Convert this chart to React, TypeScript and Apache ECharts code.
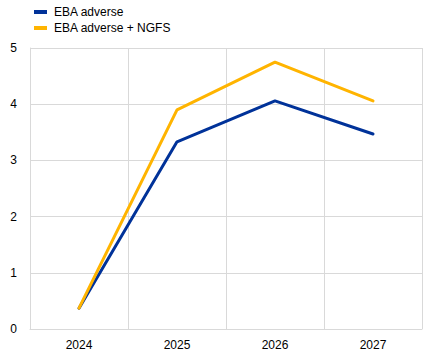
import React, { useEffect, useRef } from "react";
import * as echarts from "echarts";

const categories = ["2024", "2025", "2026", "2027"];
const ebaAdverse = [0.37, 3.33, 4.06, 3.47];
const ebaAdverseNgfs = [0.37, 3.9, 4.75, 4.06];
const seriesNames = ["EBA adverse", "EBA adverse + NGFS"];

export default function App() {
  const ref = useRef<HTMLDivElement>(null);
  useEffect(() => {
    document.body.style.margin = "0";
    const chart = echarts.init(ref.current!, null, { renderer: "svg" });
    chart.setOption({
      animation: false,
      textStyle: { fontFamily: "Liberation Sans, Arial, sans-serif" },
      legend: {
        orient: "vertical",
        left: 29,
        top: 1,
        itemWidth: 13,
        itemHeight: 4,
        itemGap: 4,
        icon: "rect",
        textStyle: { fontSize: 12, color: "#000", padding: [0, 0, 0, 2] },
        data: seriesNames,
      },
      grid: { left: 30, right: 15, top: 48, bottom: 27 },
      xAxis: {
        type: "category",
        data: categories,
        boundaryGap: true,
        axisLine: { lineStyle: { color: "#d9d9d9", width: 1 } },
        axisTick: { show: false },
        axisLabel: { color: "#000", fontSize: 12, margin: 10 },
        splitLine: { show: true, lineStyle: { color: "#d9d9d9", width: 1 } },
      },
      yAxis: {
        type: "value",
        min: 0,
        max: 5,
        interval: 1,
        axisLine: { show: true, lineStyle: { color: "#d9d9d9", width: 1 } },
        axisTick: { show: false },
        axisLabel: { color: "#000", fontSize: 12, margin: 13 },
        splitLine: { show: true, lineStyle: { color: "#d9d9d9", width: 1 } },
      },
      series: [
        {
          name: seriesNames[0],
          type: "line",
          data: ebaAdverse,
          symbol: "none",
          lineStyle: { color: "#003299", width: 3, cap: "round" },
          itemStyle: { color: "#003299" },
          z: 2,
        },
        {
          name: seriesNames[1],
          type: "line",
          data: ebaAdverseNgfs,
          symbol: "none",
          lineStyle: { color: "#ffb400", width: 3, cap: "round" },
          itemStyle: { color: "#ffb400" },
          z: 3,
        },
      ],
    });
    return () => chart.dispose();
  }, []);
  return <div ref={ref} style={{ width: 437, height: 356 }} />;
}
